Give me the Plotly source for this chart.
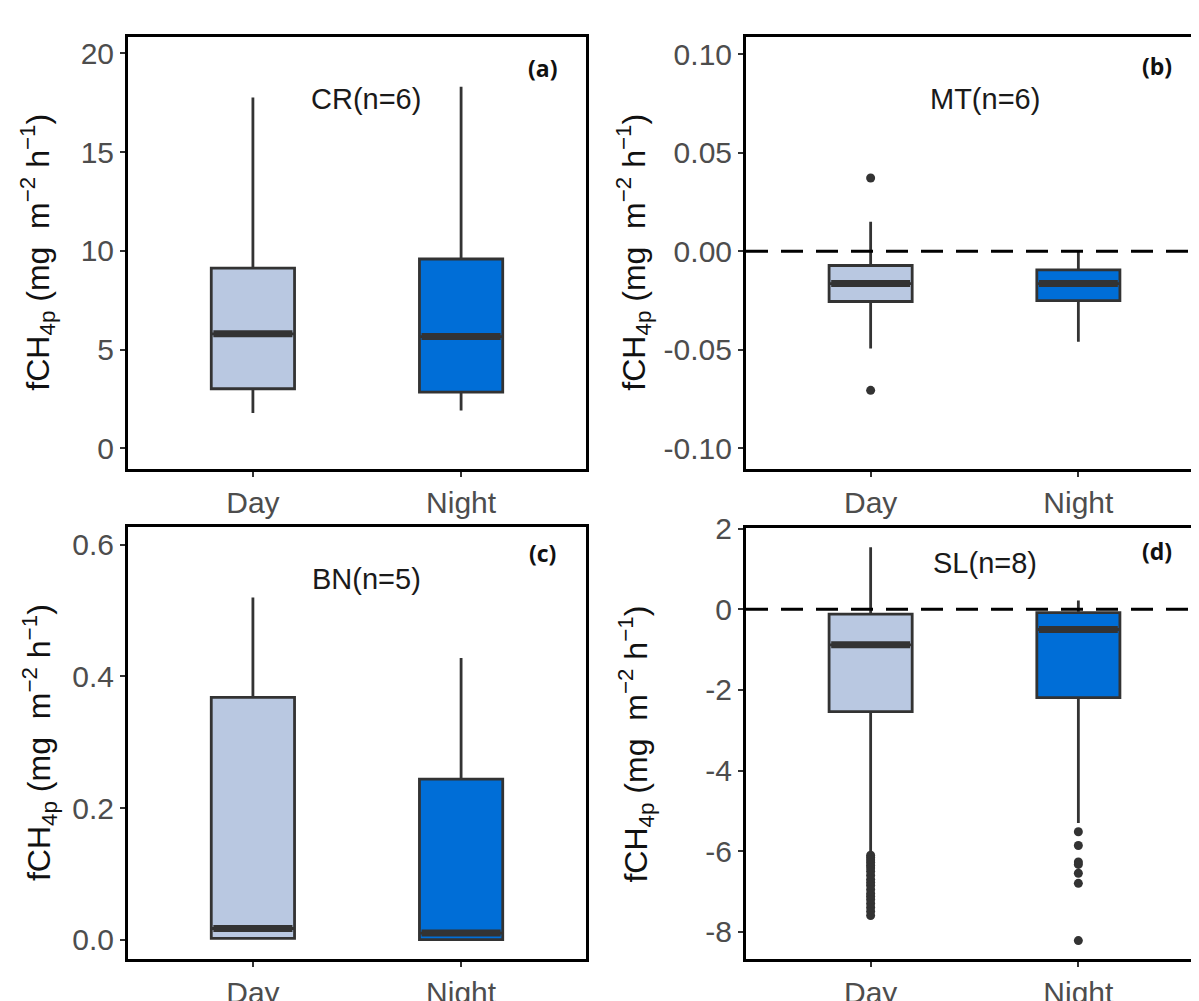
import plotly.graph_objects as go
from plotly.subplots import make_subplots

# ---------------- data ----------------
groups = ["Day", "Night"]
group_pos = [1, 2]

panel_titles = ["CR(n=6)", "MT(n=6)", "BN(n=5)", "SL(n=8)"]
panel_tags = ["(a)", "(b)", "(c)", "(d)"]

# CR
cr_low = [1.79, 1.92]
cr_q1 = [3.02, 2.85]
cr_med = [5.80, 5.66]
cr_q3 = [9.13, 9.59]
cr_high = [17.77, 18.31]
cr_out_day = []
cr_out_night = []

# MT
mt_low = [-0.0494, -0.0459]
mt_q1 = [-0.0255, -0.0250]
mt_med = [-0.0164, -0.0164]
mt_q3 = [-0.0072, -0.0094]
mt_high = [0.0150, 0.0000]
mt_out_day = [0.0372, -0.0706]
mt_out_night = []

# BN
bn_low = [0.001, 0.000]
bn_q1 = [0.002, 0.000]
bn_med = [0.017, 0.010]
bn_q3 = [0.368, 0.244]
bn_high = [0.520, 0.428]
bn_out_day = []
bn_out_night = []

# SL
sl_low = [-6.05, -5.30]
sl_q1 = [-2.54, -2.19]
sl_med = [-0.88, -0.50]
sl_q3 = [-0.12, -0.08]
sl_high = [1.54, 0.22]
sl_out_day = [-6.10, -6.16, -6.22, -6.28, -6.35, -6.42, -6.50, -6.60, -6.70,
              -6.78, -6.85, -6.95, -7.05, -7.12, -7.20, -7.30, -7.40, -7.50, -7.60]
sl_out_night = [-5.52, -5.86, -6.27, -6.33, -6.55, -6.80, -8.22]

# axis ticks
cr_ticks = [0, 5, 10, 15, 20]
cr_ticktext = ["0", "5", "10", "15", "20"]
mt_ticks = [-0.10, -0.05, 0.0, 0.05, 0.10]
mt_ticktext = ["-0.10", "-0.05", "0.00", "0.05", "0.10"]
bn_ticks = [0.0, 0.2, 0.4, 0.6]
bn_ticktext = ["0.0", "0.2", "0.4", "0.6"]
sl_ticks = [-8, -6, -4, -2, 0, 2]
sl_ticktext = ["-8", "-6", "-4", "-2", "0", "2"]

y_ranges = [[-1.03, 20.85], [-0.1104, 0.109], [-0.0295, 0.627], [-8.68, 2.02]]
has_zero_line = [False, True, False, True]

# ---------------- style ----------------
fills = ["#B9C8E1", "#006ED7"]
edge = "#333333"
box_width = 0.4
font_main = "Liberation Sans, Arial, sans-serif"

panels = [
    dict(low=cr_low, q1=cr_q1, med=cr_med, q3=cr_q3, high=cr_high,
         out=[cr_out_day, cr_out_night], ticks=cr_ticks, ticktext=cr_ticktext),
    dict(low=mt_low, q1=mt_q1, med=mt_med, q3=mt_q3, high=mt_high,
         out=[mt_out_day, mt_out_night], ticks=mt_ticks, ticktext=mt_ticktext),
    dict(low=bn_low, q1=bn_q1, med=bn_med, q3=bn_q3, high=bn_high,
         out=[bn_out_day, bn_out_night], ticks=bn_ticks, ticktext=bn_ticktext),
    dict(low=sl_low, q1=sl_q1, med=sl_med, q3=sl_q3, high=sl_high,
         out=[sl_out_day, sl_out_night], ticks=sl_ticks, ticktext=sl_ticktext),
]

W, H = 1199, 1001
# frames in pixels: (left, right, top, bottom)
frames = [(120, 578, 13, 458), (738, 1195, 13, 458),
          (120, 578, 518, 963), (738, 1195, 519, 963)]
title_x_px = [30, 626, 31, 628]

fig = make_subplots(rows=2, cols=2)

for i, p in enumerate(panels):
    row, col = i // 2 + 1, i % 2 + 1
    for g in range(2):
        fig.add_trace(go.Box(
            x=[group_pos[g]], q1=[p["q1"][g]], median=[p["med"][g]], q3=[p["q3"][g]],
            lowerfence=[p["low"][g]], upperfence=[p["high"][g]],
            width=box_width, whiskerwidth=0, boxpoints=False,
            fillcolor=fills[g], line=dict(color=edge, width=2.8),
            hoverinfo="skip", showlegend=False), row=row, col=col)
        # thick median bar
        fig.add_trace(go.Scatter(
            x=[group_pos[g] - box_width / 2 + 0.01, group_pos[g] + box_width / 2 - 0.01],
            y=[p["med"][g], p["med"][g]], mode="lines",
            line=dict(color=edge, width=7), hoverinfo="skip", showlegend=False),
            row=row, col=col)
        if p["out"][g]:
            fig.add_trace(go.Scatter(
                x=[group_pos[g]] * len(p["out"][g]), y=p["out"][g], mode="markers",
                marker=dict(color=edge, size=9), hoverinfo="skip", showlegend=False),
                row=row, col=col)

for i, p in enumerate(panels):
    l, r, t, b = frames[i]
    xa = "xaxis" if i == 0 else f"xaxis{i+1}"
    ya = "yaxis" if i == 0 else f"yaxis{i+1}"
    fig.layout[xa].update(
        domain=[l / W, r / W], range=[0.4, 2.6], tickvals=group_pos, ticktext=groups,
        showline=True, linewidth=3, linecolor="black", mirror=True,
        ticks="outside", ticklen=5, tickwidth=1.5, tickcolor=edge,
        tickfont=dict(size=30, color="#4D4D4D", family=font_main),
        showgrid=False, zeroline=False, fixedrange=True)
    fig.layout[ya].update(
        domain=[1 - b / H, 1 - t / H], range=y_ranges[i], tickvals=p["ticks"],
        ticktext=p["ticktext"],
        showline=True, linewidth=3, linecolor="black", mirror=True,
        ticks="outside", ticklen=5, tickwidth=1.5, tickcolor=edge,
        tickfont=dict(size=30, color="#4D4D4D", family=font_main),
        showgrid=False, zeroline=False, fixedrange=True)

    xref = "x" if i == 0 else f"x{i+1}"
    yref = "y" if i == 0 else f"y{i+1}"
    if has_zero_line[i]:
        fig.add_shape(type="line", xref=f"{xref} domain", yref=yref,
                      x0=0, x1=1, y0=0, y1=0, layer="above",
                      line=dict(color="black", width=3, dash="22px,13px"))

    # panel title
    tpos = [(0.52, 0.856), (0.523, 0.856), (0.52, 0.879), (0.523, 0.919)][i]
    fig.add_annotation(text=panel_titles[i], xref=f"{xref} domain", yref=f"{yref} domain",
                       x=tpos[0], y=tpos[1], showarrow=False, xanchor="center", yanchor="middle",
                       font=dict(size=29, color="#1A1A1A", family=font_main))
    gpos = [(0.904, 0.928), (0.90, 0.933), (0.904, 0.939), (0.90, 0.946)][i]
    fig.add_annotation(text="<b>" + panel_tags[i] + "</b>", xref=f"{xref} domain",
                       yref=f"{yref} domain", x=gpos[0], y=gpos[1], showarrow=False,
                       xanchor="center", yanchor="middle",
                       font=dict(size=23, color="#111111", family="Open Sans, sans-serif"))
    # y axis title
    fig.add_annotation(text="fCH<sub>4p</sub> (mg&nbsp; m<sup>−2</sup> h<sup>−1</sup>)",
                       xref="paper", yref="paper", x=title_x_px[i] / W,
                       y=1 - (t + b) / 2 / H, textangle=-90, showarrow=False,
                       xanchor="center", yanchor="middle",
                       font=dict(size=32, color="#111111", family=font_main))

fig.update_layout(width=W, height=H, margin=dict(l=0, r=0, t=0, b=0),
                  paper_bgcolor="white", plot_bgcolor="white", showlegend=False,
                  boxmode="overlay")

fig.write_html("out.html")
